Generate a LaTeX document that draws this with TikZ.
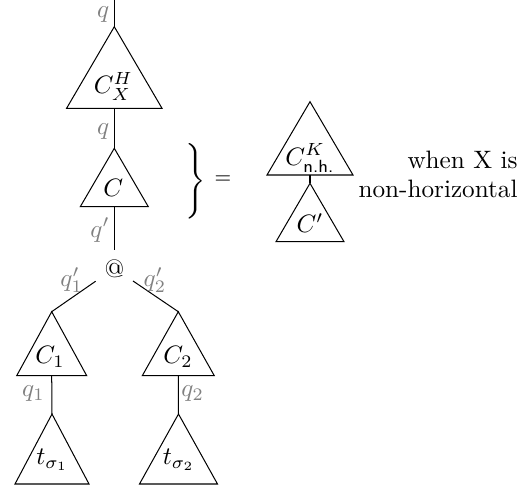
\documentclass[tikz,border=0pt]{standalone}
\usepackage{amsmath}
\newcommand\mytri[5]{%
  \coordinate (#1-a) at (#2,#3);
  \coordinate (#1-l) at ({#2-#4},#5);
  \coordinate (#1-r) at ({#2+#4},#5);
  \coordinate (#1-b) at (#2,#5);
  \draw[tri] (#1-a) -- (#1-l) -- (#1-r) -- cycle;}
\begin{document}
\begin{tikzpicture}[x=0.397pt,y=-0.397pt,
  tri/.style={draw=black,line width=0.4pt},
  conn/.style={draw=black,line width=0.4pt},
  lbl/.style={text=gray,inner sep=0pt},
  txt/.style={inner sep=0pt}]
\useasboundingbox (0,0) rectangle (521,489);
% triangles
\mytri{CXH}{114.3}{26.7}{47.7}{108.3}
\mytri{C}{114.3}{148.3}{34}{206.7}
\mytri{Ca}{51.7}{311.7}{35}{375.7}
\mytri{Cb}{178.3}{311.7}{36}{375.7}
\mytri{ta}{52}{414}{37}{484}
\mytri{tb}{178.5}{414}{39}{484}
\mytri{CK}{310}{101.7}{43}{175}
\mytri{Cp}{310}{183.3}{34}{241.7}
% texts inside triangles
\node[txt] (tCXH) at (113.3,86.7) {$C_X^H$};
\node[txt] (tC) at (113.3,188.3) {$C$};
\node[txt] (tCa) at (50,356.7) {$C_1$};
\node[txt] (tCb) at (178,356.7) {$C_2$};
\node[txt] (tta) at (52.3,460) {$t_{\sigma_1}$};
\node[txt] (ttb) at (178.8,460) {$t_{\sigma_2}$};
\node[txt] (tCK) at (310,158) {$C^K_{\textsf{n.h.}}$};
\node[txt] (tCp) at (310,223) {$C'$};
% application node
\node (at) at (114.3,268.3) {@};
% connectors
\coordinate (top) at (114.3,0);
\draw[conn] (top) -- (CXH-a);
\draw[conn] (CXH-b) -- (C-a);
\draw[conn] (C-b) -- (at);
\draw[conn] (at) -- (Ca-a);
\draw[conn] (at) -- (Cb-a);
\draw[conn] (Ca-b) -- (ta-a);
\draw[conn] (Cb-b) -- (tb-a);
\draw[conn] (CK-b) -- (Cp-a);
% labels
\node[lbl] (l1) at (103.3,15) {$q$};
\node[lbl] (l2) at (103.3,131.7) {$q$};
\node[lbl] (l3) at (100,230) {$q'$};
\node[lbl] (l4) at (71.7,280) {$q_1'$};
\node[lbl] (l5) at (155,280) {$q_2'$};
\node[lbl] (l6) at (33.3,393.3) {$q_1$};
\node[lbl] (l7) at (192.7,393.3) {$q_2$};
% brace and equals
\node[txt] (brace) at (194,181) {$\left.\vcenter{\hrule height 28pt width 0pt}\right\}$};
\node[txt] (eq) at (223,180) {\footnotesize$=$};
\node[txt,anchor=base east] (w1) at (518,168) {when X is};
\node[txt,anchor=base east] (w2) at (518,197) {non-horizontal};
\end{tikzpicture}
\end{document}
